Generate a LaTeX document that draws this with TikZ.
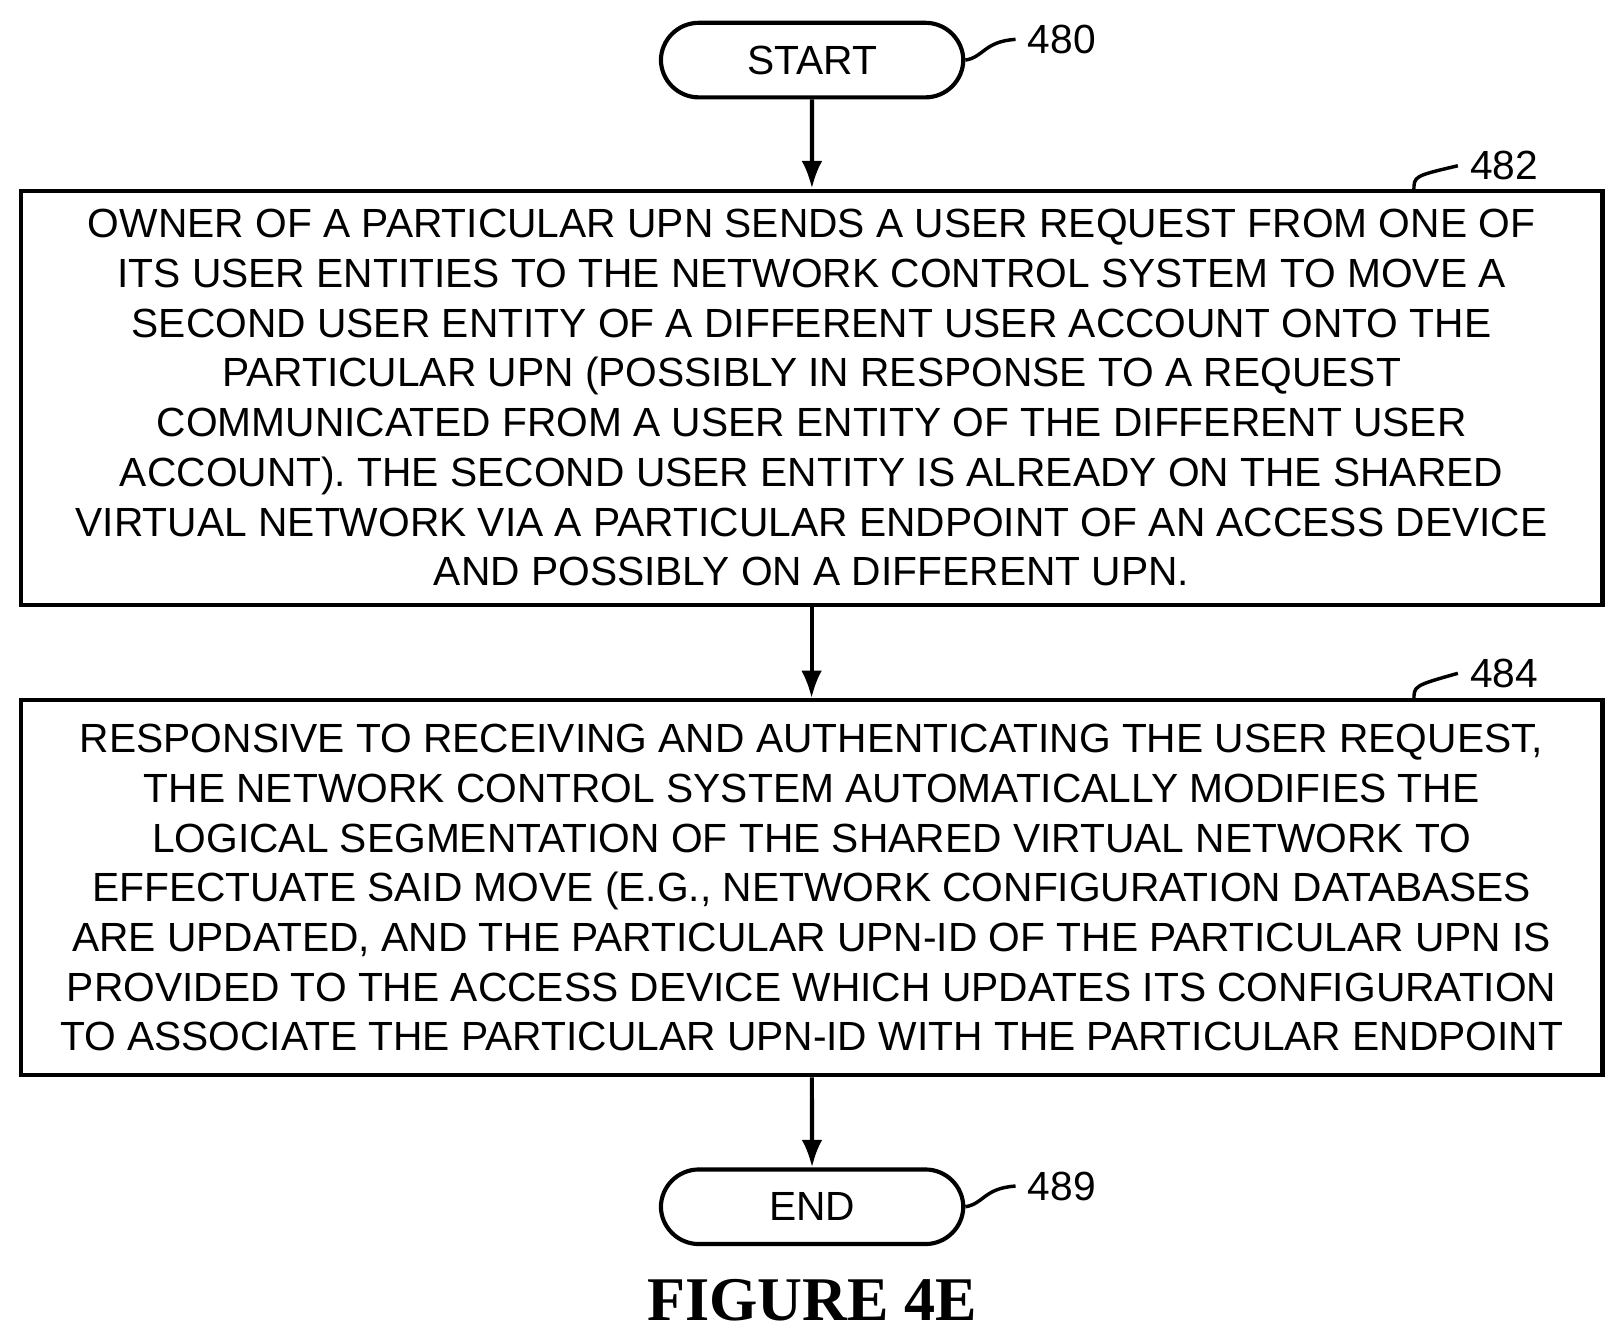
\documentclass[tikz,border=0pt]{standalone}
\usepackage{fontspec}
\usetikzlibrary{arrows.meta}
\setmainfont{Liberation Sans}
\newfontfamily\figfont{Liberation Serif}
\begin{document}
\begin{tikzpicture}[x=0.3pt,y=-0.3pt,
  box/.style={draw,line width=1.2pt,minimum width=1527*0.3pt,align=center,inner sep=0pt,font=\fontsize{11.8}{14.4}\selectfont},
  term/.style={draw,line width=1.2pt,rounded corners=11pt,minimum width=292*0.3pt,minimum height=72*0.3pt,font=\fontsize{11.8}{14}\selectfont},
  arr/.style={-{Latex[length=8pt,width=6pt]},line width=1.2pt},
  lbl/.style={font=\fontsize{11.8}{14}\selectfont},
  tick/.style={line width=1pt}]
\useasboundingbox (0,0) rectangle (1563,1290);
\node[term] (s) at (784,58) {START};
\node[lbl] (l480) at (1025,38) {480};
\draw[tick] (s.east) .. controls (950,55) and (950,40) .. (l480.west);
\node[box,minimum height=400*0.3pt] (b1) at (783.5,384) {OWNER OF A PARTICULAR UPN SENDS A USER REQUEST FROM ONE OF\\ITS USER ENTITIES TO THE NETWORK CONTROL SYSTEM TO MOVE A\\SECOND USER ENTITY OF A DIFFERENT USER ACCOUNT ONTO THE\\PARTICULAR UPN (POSSIBLY IN RESPONSE TO A REQUEST\\COMMUNICATED FROM A USER ENTITY OF THE DIFFERENT USER\\ACCOUNT). THE SECOND USER ENTITY IS ALREADY ON THE SHARED\\VIRTUAL NETWORK VIA A PARTICULAR ENDPOINT OF AN ACCESS DEVICE\\AND POSSIBLY ON A DIFFERENT UPN.};
\node[lbl] (l482) at (1452,160) {482};
\coordinate (c482) at (1365,184);
\draw[tick] (c482) .. controls (1365,170) .. (l482.west);
\node[box,minimum height=362*0.3pt] (b2) at (783.5,857) {RESPONSIVE TO RECEIVING AND AUTHENTICATING THE USER REQUEST,\\THE NETWORK CONTROL SYSTEM AUTOMATICALLY MODIFIES THE\\LOGICAL SEGMENTATION OF THE SHARED VIRTUAL NETWORK TO\\EFFECTUATE SAID MOVE (E.G., NETWORK CONFIGURATION DATABASES\\ARE UPDATED, AND THE PARTICULAR UPN-ID OF THE PARTICULAR UPN IS\\PROVIDED TO THE ACCESS DEVICE WHICH UPDATES ITS CONFIGURATION\\TO ASSOCIATE THE PARTICULAR UPN-ID WITH THE PARTICULAR ENDPOINT};
\node[lbl] (l484) at (1452,650) {484};
\coordinate (c484) at (1365,676);
\draw[tick] (c484) .. controls (1365,662) .. (l484.west);
\node[term] (e) at (784,1165) {END};
\node[lbl] (l489) at (1025,1145) {489};
\draw[tick] (e.east) .. controls (950,1162) and (950,1147) .. (l489.west);
\draw[arr] (s) -- (b1);
\draw[arr] (b1) -- (b2);
\draw[arr] (b2) -- (e);
\node[font=\figfont\bfseries\fontsize{18}{20}\selectfont] (fig) at (784,1255) {FIGURE 4E};
\end{tikzpicture}
\end{document}
